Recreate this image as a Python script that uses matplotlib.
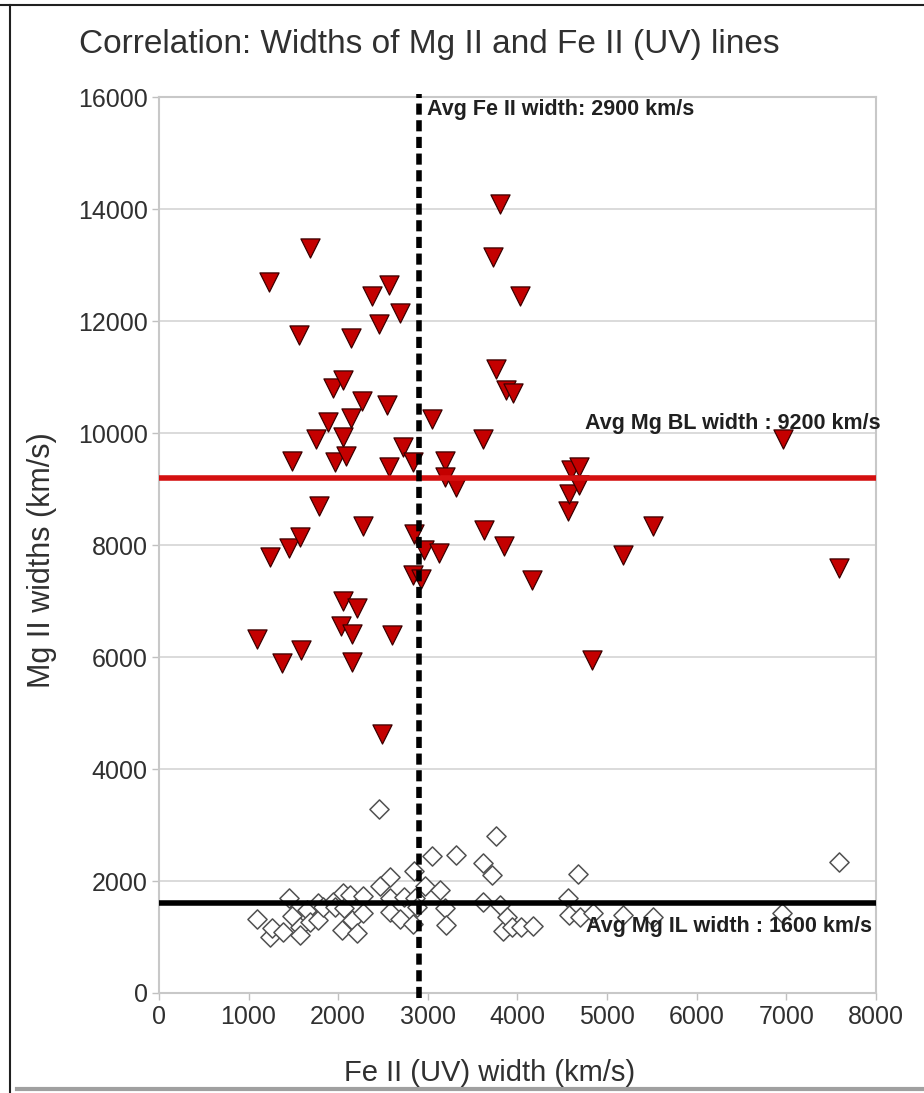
import matplotlib
matplotlib.use("Agg")
import matplotlib.pyplot as plt
from matplotlib.lines import Line2D

plt.rcParams["font.family"] = ["Liberation Sans", "DejaVu Sans"]

# ── data (km/s) ───────────────────────────────────────────────────────────────
# broad-line Mg II component vs Fe II (UV)
bl_fe = [1090, 1230, 1240, 1370, 1450, 1490, 1560, 1570, 1590, 1690,
         1750, 1790, 1890, 1940, 1960, 2030, 2050, 2050, 2050, 2090,
         2140, 2140, 2150, 2150, 2210, 2270, 2280, 2380, 2450, 2490,
         2550, 2570, 2570, 2600, 2690, 2720, 2840, 2850, 2840, 2920,
         2960, 3050, 3130, 3190, 3190, 3320, 3620, 3630, 3730, 3760,
         3810, 3850, 3870, 3950, 4030, 4160, 4560, 4570, 4600, 4690,
         4690, 4830, 5180, 5510, 6960, 7590]
bl_mg = [6320, 12700, 7790, 5890, 7940, 9500, 11750, 8150, 6120, 13300,
         9900, 8700, 10200, 10800, 9480, 6550, 10950, 9930, 7000, 9600,
         11700, 10270, 6410, 5920, 6870, 10580, 8350, 12450, 11950, 4620,
         10500, 12650, 9400, 6390, 12150, 9750, 9480, 8200, 7460, 7400,
         7920, 10250, 7860, 9500, 9220, 9030, 9900, 8270, 13140, 11150,
         14100, 7980, 10780, 10710, 12450, 7380, 8610, 8920, 9340, 9400,
         9070, 5950, 7820, 8340, 9900, 7590]

# intermediate-line Mg II component vs Fe II (UV)
il_fe = [1090, 1240, 1260, 1380, 1450, 1490, 1570, 1570, 1650, 1690,
         1780, 1780, 1830, 1940, 1960, 2040, 2050, 2060, 2130, 2150,
         2210, 2280, 2280, 2450, 2470, 2580, 2580, 2580, 2690, 2730,
         2840, 2850, 2860, 2880, 2970, 3050, 3140, 3190, 3200, 3320,
         3620, 3620, 3720, 3760, 3810, 3840, 3880, 3940, 4040, 4170,
         4560, 4570, 4680, 4700, 4840, 5180, 5510, 6950, 7590]
il_mg = [1330, 1000, 1155, 1095, 1690, 1375, 1180, 1040, 1490, 1270,
         1610, 1300, 1540, 1630, 1540, 1125, 1780, 1510, 1750, 1300,
         1080, 1730, 1420, 3280, 1910, 2080, 1690, 1450, 1330, 1720,
         1240, 2180, 1690, 1540, 1910, 2450, 1840, 1510, 1210, 2460,
         2330, 1630, 2110, 2800, 1570, 1100, 1360, 1180, 1180, 1200,
         1690, 1390, 2120, 1360, 1420, 1390, 1360, 1420, 2340]

avg_fe = 2900
avg_bl = 9200
avg_il = 1600

x_ticks = list(range(0, 8001, 1000))
y_ticks = list(range(0, 16001, 2000))

# ── figure ───────────────────────────────────────────────────────────────────
fig = plt.figure(figsize=(9.24, 10.93), dpi=100)
ax = fig.add_axes([0.172, 0.0915, 0.776, 0.8195])

ax.scatter(bl_fe, bl_mg, marker="v", s=190, color="#c40000",
           edgecolors="#3a0000", linewidths=0.9, zorder=3)
ax.scatter(il_fe, il_mg, marker="D", s=95, facecolors="white",
           edgecolors="#505050", linewidths=1.1, zorder=3)

ax.axhline(avg_bl, color="#d41010", lw=4, zorder=4)
ax.axhline(avg_il, color="black", lw=4, zorder=4)
ax.axvline(avg_fe, ymin=-0.006, ymax=1.004, color="black", lw=4,
           dashes=(2, 1), zorder=5, clip_on=False)

note = dict(fontsize=15.5, fontweight="bold", color="#202020",
            va="center", zorder=6)
ax.text(2990, 15780, "Avg Fe II width: 2900 km/s", **note)
ax.text(4750, 10170, "Avg Mg BL width : 9200 km/s", **note)
ax.text(4770, 1180, "Avg Mg IL width : 1600 km/s", **note)

ax.set_xlim(0, 8000)
ax.set_ylim(0, 16000)
ax.set_xticks(x_ticks)
ax.set_yticks(y_ticks)
ax.grid(axis="y", color="#d4d4d4", lw=1.2)
ax.set_axisbelow(True)
for s in ax.spines.values():
    s.set_color("#c8c8c8")
    s.set_linewidth(1.5)
ax.tick_params(colors="#c0c0c0", length=5, width=1, labelcolor="#303030",
               labelsize=18)
ax.tick_params(axis="x", pad=4)
ax.tick_params(axis="y", pad=3)

fig.text(490 / 924, 1 - 1073 / 1093, "Fe II (UV) width (km/s)", fontsize=21,
         color="#303030", ha="center", va="center")
fig.text(42 / 924, 1 - 560 / 1093, "Mg II widths (km/s)", fontsize=22,
         color="#303030", ha="center", va="center", rotation=90)
fig.text(429 / 924, 1 - 44 / 1093,
         "Correlation: Widths of Mg II and Fe II (UV) lines",
         fontsize=24, color="#303030", ha="center", va="center")

# outer frame
fig.add_artist(Line2D([0, 1], [1 - 5 / 1093] * 2, color="#202020", lw=1.5))
fig.add_artist(Line2D([10 / 924] * 2, [0, 1 - 5 / 1093], color="#202020", lw=1.5))
fig.add_artist(Line2D([17 / 924, 1], [4 / 1093] * 2, color="#a0a0a0", lw=3))

fig.savefig("out.png", dpi=100)
